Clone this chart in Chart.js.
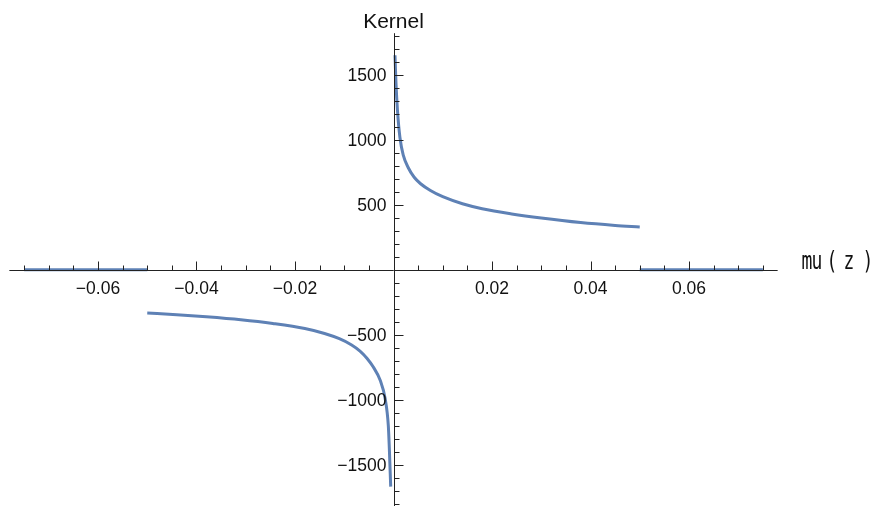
<!DOCTYPE html>
<html>
<head>
<meta charset="utf-8">
<title>Kernel vs mu(z)</title>
<script src="https://cdn.jsdelivr.net/npm/chart.js@4"></script>
<style>
  body { margin: 0; background: #fff; }
  #wrap { width: 875px; height: 506px; position: relative; }
</style>
</head>
<body>
<div id="wrap"><canvas id="kernelChart"></canvas></div>
<script>
// Kernel values read along the two branches
const upperX = [0.0003, 0.0005, 0.0008, 0.0013, 0.002, 0.003, 0.0042, 0.0055, 0.0075, 0.010, 0.014, 0.018, 0.024, 0.030, 0.038, 0.045, 0.050];
const upperY = [1650, 1440, 1230, 1020, 880, 785, 712, 662, 610, 562, 508, 470, 430, 398, 363, 341, 329];
const lowerX = [-0.050, -0.044, -0.038, -0.031, -0.0245, -0.018, -0.014, -0.011, -0.0085, -0.0068, -0.0054, -0.0041, -0.0027, -0.0017, -0.00105, -0.00085, -0.00057];
const lowerY = [-333, -345, -361, -384, -413, -452, -490, -530, -578, -625, -680, -748, -850, -990, -1200, -1370, -1668];

// outside |mu| > 0.05 the kernel is zero
const zeroLeftX = [-0.075, -0.05];
const zeroRightX = [0.05, 0.075];

// tick marks and labels
const xMajorTicks = [-0.06, -0.04, -0.02, 0.02, 0.04, 0.06];
const xMinorStep = 0.005;
const yMajorTicks = [-1500, -1000, -500, 500, 1000, 1500];
const yMinorStep = 100;

const curveColor = '#5e81b5';
const axisColor = '#222';
const labelFont = '17.5px "Liberation Sans", Arial, sans-serif';

function toPoints(xs, ys) {
  return xs.map((x, i) => ({ x: x, y: ys[i] }));
}

function fmt(v, digits) {
  const s = Math.abs(v).toFixed(digits);
  return v < 0 ? '\u2212' + s : s;
}

// Draws axes crossing at the origin, ticks pointing into the plot
const originAxes = {
  id: 'originAxes',
  afterDatasetsDraw(chart) {
    const ctx = chart.ctx;
    const xs = chart.scales.x;
    const ys = chart.scales.y;
    const x0 = Math.round(xs.getPixelForValue(0)) + 0.5;
    const y0 = Math.round(ys.getPixelForValue(0)) + 0.5;

    ctx.save();
    ctx.strokeStyle = axisColor;
    ctx.lineWidth = 1;
    ctx.beginPath();
    ctx.moveTo(chart.chartArea.left, y0);
    ctx.lineTo(chart.chartArea.right, y0);
    ctx.moveTo(x0, chart.chartArea.top);
    ctx.lineTo(x0, chart.chartArea.bottom);

    // x ticks
    for (let i = -15; i <= 15; i++) {
      if (i === 0) continue;
      const v = i * xMinorStep;
      const px = Math.round(xs.getPixelForValue(v)) + 0.5;
      const len = i % 4 === 0 ? 9 : 5;
      ctx.moveTo(px, y0);
      ctx.lineTo(px, y0 - len);
    }
    // y ticks
    for (let i = -18; i <= 18; i++) {
      if (i === 0) continue;
      const v = i * yMinorStep;
      const py = Math.round(ys.getPixelForValue(v)) + 0.5;
      const len = i % 5 === 0 ? 9 : 5;
      ctx.moveTo(x0, py);
      ctx.lineTo(x0 + len, py);
    }
    ctx.stroke();

    ctx.fillStyle = '#111';
    ctx.font = labelFont;
    ctx.textAlign = 'center';
    ctx.textBaseline = 'middle';
    xMajorTicks.forEach((v) => {
      ctx.fillText(fmt(v, 2), xs.getPixelForValue(v), y0 + 19);
    });
    ctx.textAlign = 'right';
    yMajorTicks.forEach((v) => {
      ctx.fillText(fmt(v, 0), x0 - 8, ys.getPixelForValue(v) + 1);
    });

    // axis titles
    ctx.font = '21px "Liberation Sans", Arial, sans-serif';
    ctx.textAlign = 'center';
    ctx.textBaseline = 'alphabetic';
    ctx.fillText('Kernel', x0 - 1, 28);

    ctx.font = '24px "DejaVu Sans Mono", monospace';
    const parts = [['m', 807], ['u', 817], ['(', 832], ['z', 849], [')', 868]];
    parts.forEach(([ch, cx]) => {
      ctx.save();
      ctx.translate(cx, y0 - 2);
      ctx.scale(0.75, 1);
      ctx.fillText(ch, 0, 0);
      ctx.restore();
    });
    ctx.restore();
  }
};

const lineStyle = {
  borderColor: curveColor,
  borderWidth: 3,
  pointRadius: 0,
  fill: false,
  showLine: true,
  cubicInterpolationMode: 'monotone',
};

new Chart(document.getElementById('kernelChart'), {
  type: 'scatter',
  data: {
    datasets: [
      Object.assign({ data: toPoints(upperX, upperY) }, lineStyle),
      Object.assign({ data: toPoints(lowerX, lowerY) }, lineStyle),
      Object.assign({ data: toPoints(zeroLeftX, [0, 0]) }, lineStyle),
      Object.assign({ data: toPoints(zeroRightX, [0, 0]) }, lineStyle),
    ],
  },
  options: {
    responsive: true,
    maintainAspectRatio: false,
    animation: false,
    layout: { padding: { left: 9.35, right: 97.35, top: 33.2, bottom: 0 } },
    plugins: { legend: { display: false }, tooltip: { enabled: false } },
    scales: {
      x: { type: 'linear', min: -0.078, max: 0.078, display: false },
      y: { type: 'linear', min: -1817, max: 1820, display: false },
    },
  },
  plugins: [originAxes],
});
</script>
</body>
</html>
